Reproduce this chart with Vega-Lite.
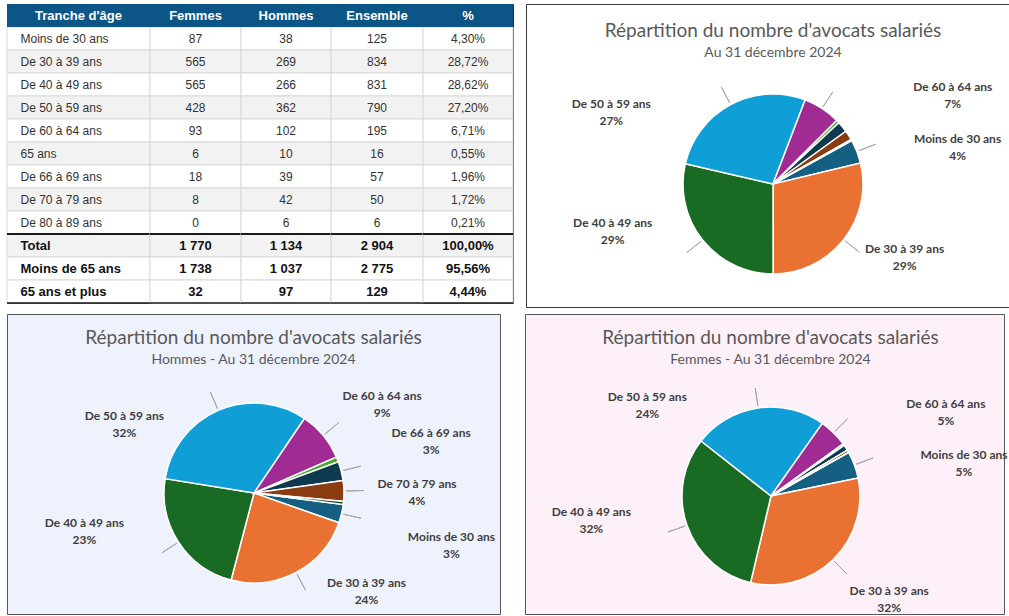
{
  "$schema": "https://vega.github.io/schema/vega-lite/v6.json",
  "padding": {"left": 5, "top": 3, "right": 0, "bottom": 0},
  "background": "#ffffff",
  "spacing": 5,
  "datasets": {
    "lignes": [
      {"tranche": "Moins de 30 ans", "femmes": 87, "hommes": 38, "ensemble": 125, "pct": 0.0430, "partH": 0.0335, "partF": 0.0492, "kind": "age"},
      {"tranche": "De 30 à 39 ans", "femmes": 565, "hommes": 269, "ensemble": 834, "pct": 0.2872, "partH": 0.2372, "partF": 0.3192, "kind": "age"},
      {"tranche": "De 40 à 49 ans", "femmes": 565, "hommes": 266, "ensemble": 831, "pct": 0.2862, "partH": 0.2346, "partF": 0.3192, "kind": "age"},
      {"tranche": "De 50 à 59 ans", "femmes": 428, "hommes": 362, "ensemble": 790, "pct": 0.2720, "partH": 0.3192, "partF": 0.2418, "kind": "age"},
      {"tranche": "De 60 à 64 ans", "femmes": 93, "hommes": 102, "ensemble": 195, "pct": 0.0671, "partH": 0.0899, "partF": 0.0525, "kind": "age"},
      {"tranche": "65 ans", "femmes": 6, "hommes": 10, "ensemble": 16, "pct": 0.0055, "partH": 0.0088, "partF": 0.0034, "kind": "age"},
      {"tranche": "De 66 à 69 ans", "femmes": 18, "hommes": 39, "ensemble": 57, "pct": 0.0196, "partH": 0.0344, "partF": 0.0102, "kind": "age"},
      {"tranche": "De 70 à 79 ans", "femmes": 8, "hommes": 42, "ensemble": 50, "pct": 0.0172, "partH": 0.0370, "partF": 0.0045, "kind": "age"},
      {"tranche": "De 80 à 89 ans", "femmes": 0, "hommes": 6, "ensemble": 6, "pct": 0.0021, "partH": 0.0053, "partF": 0, "kind": "age"},
      {"tranche": "Total", "femmes": 1770, "hommes": 1134, "ensemble": 2904, "pct": 1.0, "kind": "total"},
      {"tranche": "Moins de 65 ans", "femmes": 1738, "hommes": 1037, "ensemble": 2775, "pct": 0.9556, "kind": "total"},
      {"tranche": "65 ans et plus", "femmes": 32, "hommes": 97, "ensemble": 129, "pct": 0.0444, "kind": "total"}
    ],
    "entetes": [
      {"tranche": "entete", "colonne": "Tranche d'âge"},
      {"tranche": "entete", "colonne": "Femmes"},
      {"tranche": "entete", "colonne": "Hommes"},
      {"tranche": "entete", "colonne": "Ensemble"},
      {"tranche": "entete", "colonne": "%"}
    ]
  },
  "vconcat": [
    {
      "spacing": 10,
      "hconcat": [
        {
          "spacing": 0,
          "bounds": "flush",
          "hconcat": [
            {
              "width": 143, "height": 299,
              "view": {"stroke": "#262626", "strokeWidth": 1},
              "encoding": {"y": {"field": "tranche", "type": "ordinal", "axis": null, "scale": {"domain": ["entete","Moins de 30 ans","De 30 à 39 ans","De 40 à 49 ans","De 50 à 59 ans","De 60 à 64 ans","65 ans","De 66 à 69 ans","De 70 à 79 ans","De 80 à 89 ans","Total","Moins de 65 ans","65 ans et plus"], "paddingInner": 0, "paddingOuter": 0}}},
              "layer": [
                {"data": {"name": "lignes"}, "mark": {"type": "rect", "stroke": "#d9d9d9", "strokeWidth": 1}, "encoding": {"fill": {"condition": {"test": {"field": "tranche", "oneOf": ["De 30 à 39 ans","De 50 à 59 ans","65 ans","De 70 à 79 ans","Total"]}, "value": "#f2f2f2"}, "value": "#ffffff"}}},
                {"data": {"name": "lignes"}, "transform": [{"filter": {"field": "kind", "equal": "age"}}], "mark": {"type": "text", "align": "left", "dx": -58, "font": "Liberation Sans", "fontSize": 12, "color": "#333333"}, "encoding": {"text": {"field": "tranche", "type": "nominal"}}},
                {"data": {"name": "lignes"}, "transform": [{"filter": {"field": "kind", "equal": "total"}}], "mark": {"type": "text", "align": "left", "dx": -58, "font": "Liberation Sans", "fontSize": 13, "fontWeight": "bold", "color": "#111111"}, "encoding": {"text": {"field": "tranche", "type": "nominal"}}},
                {"data": {"name": "entetes"}, "transform": [{"filter": {"field": "colonne", "equal": "Tranche d'âge"}}], "mark": {"type": "rect", "fill": "#0b5587"}},
                {"data": {"name": "entetes"}, "transform": [{"filter": {"field": "colonne", "equal": "Tranche d'âge"}}], "mark": {"type": "text", "font": "Liberation Sans", "fontSize": 13, "fontWeight": "bold", "color": "#ffffff"}, "encoding": {"text": {"field": "colonne", "type": "nominal"}}},
                {"data": {"name": "lignes"}, "transform": [{"filter": {"field": "tranche", "equal": "Total"}}], "mark": {"type": "rule", "color": "#1a1a1a", "strokeWidth": 2, "yOffset": -11.5}},
                {"data": {"name": "lignes"}, "transform": [{"filter": {"field": "tranche", "equal": "65 ans et plus"}}], "mark": {"type": "rule", "color": "#1a1a1a", "strokeWidth": 1.5, "yOffset": 11.5}}
              ]
            },
            {
              "width": 91, "height": 299,
              "view": {"stroke": null},
              "encoding": {"y": {"field": "tranche", "type": "ordinal", "axis": null, "scale": {"domain": ["entete","Moins de 30 ans","De 30 à 39 ans","De 40 à 49 ans","De 50 à 59 ans","De 60 à 64 ans","65 ans","De 66 à 69 ans","De 70 à 79 ans","De 80 à 89 ans","Total","Moins de 65 ans","65 ans et plus"], "paddingInner": 0, "paddingOuter": 0}}},
              "layer": [
                {"data": {"name": "lignes"}, "mark": {"type": "rect", "stroke": "#d9d9d9", "strokeWidth": 1}, "encoding": {"fill": {"condition": {"test": {"field": "tranche", "oneOf": ["De 30 à 39 ans","De 50 à 59 ans","65 ans","De 70 à 79 ans","Total"]}, "value": "#f2f2f2"}, "value": "#ffffff"}}},
                {"data": {"name": "lignes"}, "transform": [{"filter": {"field": "kind", "equal": "age"}}], "mark": {"type": "text", "font": "Liberation Sans", "fontSize": 12, "color": "#333333"}, "encoding": {"text": {"field": "femmes", "type": "quantitative", "format": ",d"}}},
                {"data": {"name": "lignes"}, "transform": [{"filter": {"field": "kind", "equal": "total"}}], "mark": {"type": "text", "font": "Liberation Sans", "fontSize": 13, "fontWeight": "bold", "color": "#111111"}, "encoding": {"text": {"field": "femmes", "type": "quantitative", "format": ",d"}}},
                {"data": {"name": "entetes"}, "transform": [{"filter": {"field": "colonne", "equal": "Femmes"}}], "mark": {"type": "rect", "fill": "#0b5587"}},
                {"data": {"name": "entetes"}, "transform": [{"filter": {"field": "colonne", "equal": "Femmes"}}], "mark": {"type": "text", "font": "Liberation Sans", "fontSize": 13, "fontWeight": "bold", "color": "#ffffff"}, "encoding": {"text": {"field": "colonne", "type": "nominal"}}},
                {"data": {"name": "lignes"}, "transform": [{"filter": {"field": "tranche", "equal": "Total"}}], "mark": {"type": "rule", "color": "#1a1a1a", "strokeWidth": 2, "yOffset": -11.5}},
                {"data": {"name": "lignes"}, "transform": [{"filter": {"field": "tranche", "equal": "65 ans et plus"}}], "mark": {"type": "rule", "color": "#1a1a1a", "strokeWidth": 1.5, "yOffset": 11.5}}
              ]
            },
            {
              "width": 90, "height": 299,
              "view": {"stroke": null},
              "encoding": {"y": {"field": "tranche", "type": "ordinal", "axis": null, "scale": {"domain": ["entete","Moins de 30 ans","De 30 à 39 ans","De 40 à 49 ans","De 50 à 59 ans","De 60 à 64 ans","65 ans","De 66 à 69 ans","De 70 à 79 ans","De 80 à 89 ans","Total","Moins de 65 ans","65 ans et plus"], "paddingInner": 0, "paddingOuter": 0}}},
              "layer": [
                {"data": {"name": "lignes"}, "mark": {"type": "rect", "stroke": "#d9d9d9", "strokeWidth": 1}, "encoding": {"fill": {"condition": {"test": {"field": "tranche", "oneOf": ["De 30 à 39 ans","De 50 à 59 ans","65 ans","De 70 à 79 ans","Total"]}, "value": "#f2f2f2"}, "value": "#ffffff"}}},
                {"data": {"name": "lignes"}, "transform": [{"filter": {"field": "kind", "equal": "age"}}], "mark": {"type": "text", "font": "Liberation Sans", "fontSize": 12, "color": "#333333"}, "encoding": {"text": {"field": "hommes", "type": "quantitative", "format": ",d"}}},
                {"data": {"name": "lignes"}, "transform": [{"filter": {"field": "kind", "equal": "total"}}], "mark": {"type": "text", "font": "Liberation Sans", "fontSize": 13, "fontWeight": "bold", "color": "#111111"}, "encoding": {"text": {"field": "hommes", "type": "quantitative", "format": ",d"}}},
                {"data": {"name": "entetes"}, "transform": [{"filter": {"field": "colonne", "equal": "Hommes"}}], "mark": {"type": "rect", "fill": "#0b5587"}},
                {"data": {"name": "entetes"}, "transform": [{"filter": {"field": "colonne", "equal": "Hommes"}}], "mark": {"type": "text", "font": "Liberation Sans", "fontSize": 13, "fontWeight": "bold", "color": "#ffffff"}, "encoding": {"text": {"field": "colonne", "type": "nominal"}}},
                {"data": {"name": "lignes"}, "transform": [{"filter": {"field": "tranche", "equal": "Total"}}], "mark": {"type": "rule", "color": "#1a1a1a", "strokeWidth": 2, "yOffset": -11.5}},
                {"data": {"name": "lignes"}, "transform": [{"filter": {"field": "tranche", "equal": "65 ans et plus"}}], "mark": {"type": "rule", "color": "#1a1a1a", "strokeWidth": 1.5, "yOffset": 11.5}}
              ]
            },
            {
              "width": 92, "height": 299,
              "view": {"stroke": null},
              "encoding": {"y": {"field": "tranche", "type": "ordinal", "axis": null, "scale": {"domain": ["entete","Moins de 30 ans","De 30 à 39 ans","De 40 à 49 ans","De 50 à 59 ans","De 60 à 64 ans","65 ans","De 66 à 69 ans","De 70 à 79 ans","De 80 à 89 ans","Total","Moins de 65 ans","65 ans et plus"], "paddingInner": 0, "paddingOuter": 0}}},
              "layer": [
                {"data": {"name": "lignes"}, "mark": {"type": "rect", "stroke": "#d9d9d9", "strokeWidth": 1}, "encoding": {"fill": {"condition": {"test": {"field": "tranche", "oneOf": ["De 30 à 39 ans","De 50 à 59 ans","65 ans","De 70 à 79 ans","Total"]}, "value": "#f2f2f2"}, "value": "#ffffff"}}},
                {"data": {"name": "lignes"}, "transform": [{"filter": {"field": "kind", "equal": "age"}}], "mark": {"type": "text", "font": "Liberation Sans", "fontSize": 12, "color": "#333333"}, "encoding": {"text": {"field": "ensemble", "type": "quantitative", "format": ",d"}}},
                {"data": {"name": "lignes"}, "transform": [{"filter": {"field": "kind", "equal": "total"}}], "mark": {"type": "text", "font": "Liberation Sans", "fontSize": 13, "fontWeight": "bold", "color": "#111111"}, "encoding": {"text": {"field": "ensemble", "type": "quantitative", "format": ",d"}}},
                {"data": {"name": "entetes"}, "transform": [{"filter": {"field": "colonne", "equal": "Ensemble"}}], "mark": {"type": "rect", "fill": "#0b5587"}},
                {"data": {"name": "entetes"}, "transform": [{"filter": {"field": "colonne", "equal": "Ensemble"}}], "mark": {"type": "text", "font": "Liberation Sans", "fontSize": 13, "fontWeight": "bold", "color": "#ffffff"}, "encoding": {"text": {"field": "colonne", "type": "nominal"}}},
                {"data": {"name": "lignes"}, "transform": [{"filter": {"field": "tranche", "equal": "Total"}}], "mark": {"type": "rule", "color": "#1a1a1a", "strokeWidth": 2, "yOffset": -11.5}},
                {"data": {"name": "lignes"}, "transform": [{"filter": {"field": "tranche", "equal": "65 ans et plus"}}], "mark": {"type": "rule", "color": "#1a1a1a", "strokeWidth": 1.5, "yOffset": 11.5}}
              ]
            },
            {
              "width": 90, "height": 299,
              "view": {"stroke": "#262626", "strokeWidth": 1},
              "encoding": {"y": {"field": "tranche", "type": "ordinal", "axis": null, "scale": {"domain": ["entete","Moins de 30 ans","De 30 à 39 ans","De 40 à 49 ans","De 50 à 59 ans","De 60 à 64 ans","65 ans","De 66 à 69 ans","De 70 à 79 ans","De 80 à 89 ans","Total","Moins de 65 ans","65 ans et plus"], "paddingInner": 0, "paddingOuter": 0}}},
              "layer": [
                {"data": {"name": "lignes"}, "mark": {"type": "rect", "stroke": "#d9d9d9", "strokeWidth": 1}, "encoding": {"fill": {"condition": {"test": {"field": "tranche", "oneOf": ["De 30 à 39 ans","De 50 à 59 ans","65 ans","De 70 à 79 ans","Total"]}, "value": "#f2f2f2"}, "value": "#ffffff"}}},
                {"data": {"name": "lignes"}, "transform": [{"filter": {"field": "kind", "equal": "age"}}], "mark": {"type": "text", "font": "Liberation Sans", "fontSize": 12, "color": "#333333"}, "encoding": {"text": {"field": "pct", "type": "quantitative", "format": ".2%"}}},
                {"data": {"name": "lignes"}, "transform": [{"filter": {"field": "kind", "equal": "total"}}], "mark": {"type": "text", "font": "Liberation Sans", "fontSize": 13, "fontWeight": "bold", "color": "#111111"}, "encoding": {"text": {"field": "pct", "type": "quantitative", "format": ".2%"}}},
                {"data": {"name": "entetes"}, "transform": [{"filter": {"field": "colonne", "equal": "%"}}], "mark": {"type": "rect", "fill": "#0b5587"}},
                {"data": {"name": "entetes"}, "transform": [{"filter": {"field": "colonne", "equal": "%"}}], "mark": {"type": "text", "font": "Liberation Sans", "fontSize": 13, "fontWeight": "bold", "color": "#ffffff"}, "encoding": {"text": {"field": "colonne", "type": "nominal"}}},
                {"data": {"name": "lignes"}, "transform": [{"filter": {"field": "tranche", "equal": "Total"}}], "mark": {"type": "rule", "color": "#1a1a1a", "strokeWidth": 2, "yOffset": -11.5}},
                {"data": {"name": "lignes"}, "transform": [{"filter": {"field": "tranche", "equal": "65 ans et plus"}}], "mark": {"type": "rule", "color": "#1a1a1a", "strokeWidth": 1.5, "yOffset": 11.5}}
              ]
            }
          ]
        },
        {
          "width": 484, "height": 303,
          "view": {"fill": "#ffffff", "stroke": "#3a3a3a", "strokeWidth": 1},
          "title": {"text": "Répartition du nombre d'avocats salariés", "subtitle": "Au 31 décembre 2024", "anchor": "middle", "offset": -56, "dx": 5, "font": "Lato", "fontSize": 19, "fontWeight": "normal", "color": "#595959", "subtitleFont": "Lato", "subtitleFontSize": 14, "subtitleColor": "#595959", "subtitlePadding": 5},
          "data": {"name": "lignes"},
          "transform": [{"filter": {"field": "kind", "equal": "age"}}, {"window": [{"op": "row_number", "as": "rang"}]}],
          "encoding": {
            "theta": {"field": "ensemble", "type": "quantitative", "stack": true, "scale": {"range": [1.066, 7.349]}},
            "order": {"field": "rang", "type": "quantitative"},
            "detail": {"field": "tranche", "type": "nominal"}
          },
          "layer": [
            {"mark": {"type": "arc", "outerRadius": 90, "stroke": "#ffffff", "strokeWidth": 1.5, "xOffset": 5, "yOffset": 28.5},
             "encoding": {"color": {"field": "tranche", "type": "nominal", "legend": null, "scale": {"domain": ["Moins de 30 ans","De 30 à 39 ans","De 40 à 49 ans","De 50 à 59 ans","De 60 à 64 ans","65 ans","De 66 à 69 ans","De 70 à 79 ans","De 80 à 89 ans"], "range": ["#156082","#E97132","#196B24","#0F9ED5","#A02B93","#4EA72E","#0D3A4E","#8A3B12","#0F4016"]}}}},
            {"mark": {"type": "arc", "innerRadius": 92, "outerRadius": 110, "padAngle": 3, "filled": false, "stroke": "#a6a6a6", "strokeWidth": 1, "xOffset": 5, "yOffset": 28.5},
             "encoding": {"strokeOpacity": {"condition": {"test": {"field": "tranche", "oneOf": ["Moins de 30 ans","De 30 à 39 ans","De 40 à 49 ans","De 50 à 59 ans","De 60 à 64 ans"]}, "value": 1}, "value": 0}}},
            {"mark": {"type": "text", "radius": 95, "dx": -117, "dy": 3.5, "font": "Lato", "fontSize": 12, "fontWeight": "bold", "color": "#404040", "xOffset": 5, "yOffset": 28.5},
             "encoding": {"text": {"condition": {"test": {"field": "tranche", "equal": "De 50 à 59 ans"}, "field": "tranche", "type": "nominal"}, "value": ""}}},
            {"mark": {"type": "text", "radius": 95, "dx": -117, "dy": 20.5, "font": "Lato", "fontSize": 12, "fontWeight": "bold", "color": "#404040", "xOffset": 5, "yOffset": 28.5},
             "encoding": {"text": {"condition": {"test": {"field": "tranche", "equal": "De 50 à 59 ans"}, "field": "pct", "type": "quantitative", "format": ".0%"}, "value": ""}}},
            {"mark": {"type": "text", "radius": 95, "dx": -86, "dy": -20.5, "font": "Lato", "fontSize": 12, "fontWeight": "bold", "color": "#404040", "xOffset": 5, "yOffset": 28.5},
             "encoding": {"text": {"condition": {"test": {"field": "tranche", "equal": "De 40 à 49 ans"}, "field": "tranche", "type": "nominal"}, "value": ""}}},
            {"mark": {"type": "text", "radius": 95, "dx": -86, "dy": -3.5, "font": "Lato", "fontSize": 12, "fontWeight": "bold", "color": "#404040", "xOffset": 5, "yOffset": 28.5},
             "encoding": {"text": {"condition": {"test": {"field": "tranche", "equal": "De 40 à 49 ans"}, "field": "pct", "type": "quantitative", "format": ".0%"}, "value": ""}}},
            {"mark": {"type": "text", "radius": 95, "dx": 57, "dy": 6.5, "font": "Lato", "fontSize": 12, "fontWeight": "bold", "color": "#404040", "xOffset": 5, "yOffset": 28.5},
             "encoding": {"text": {"condition": {"test": {"field": "tranche", "equal": "De 30 à 39 ans"}, "field": "tranche", "type": "nominal"}, "value": ""}}},
            {"mark": {"type": "text", "radius": 95, "dx": 57, "dy": 23.5, "font": "Lato", "fontSize": 12, "fontWeight": "bold", "color": "#404040", "xOffset": 5, "yOffset": 28.5},
             "encoding": {"text": {"condition": {"test": {"field": "tranche", "equal": "De 30 à 39 ans"}, "field": "pct", "type": "quantitative", "format": ".0%"}, "value": ""}}},
            {"mark": {"type": "text", "radius": 95, "dx": 96, "dy": -10.5, "font": "Lato", "fontSize": 12, "fontWeight": "bold", "color": "#404040", "xOffset": 5, "yOffset": 28.5},
             "encoding": {"text": {"condition": {"test": {"field": "tranche", "equal": "Moins de 30 ans"}, "field": "tranche", "type": "nominal"}, "value": ""}}},
            {"mark": {"type": "text", "radius": 95, "dx": 96, "dy": 6.5, "font": "Lato", "fontSize": 12, "fontWeight": "bold", "color": "#404040", "xOffset": 5, "yOffset": 28.5},
             "encoding": {"text": {"condition": {"test": {"field": "tranche", "equal": "Moins de 30 ans"}, "field": "pct", "type": "quantitative", "format": ".0%"}, "value": ""}}},
            {"mark": {"type": "text", "radius": 95, "dx": 128, "dy": -17.5, "font": "Lato", "fontSize": 12, "fontWeight": "bold", "color": "#404040", "xOffset": 5, "yOffset": 28.5},
             "encoding": {"text": {"condition": {"test": {"field": "tranche", "equal": "De 60 à 64 ans"}, "field": "tranche", "type": "nominal"}, "value": ""}}},
            {"mark": {"type": "text", "radius": 95, "dx": 128, "dy": -0.5, "font": "Lato", "fontSize": 12, "fontWeight": "bold", "color": "#404040", "xOffset": 5, "yOffset": 28.5},
             "encoding": {"text": {"condition": {"test": {"field": "tranche", "equal": "De 60 à 64 ans"}, "field": "pct", "type": "quantitative", "format": ".0%"}, "value": ""}}}
          ]
        }
      ]
    },
    {
      "spacing": 25,
      "bounds": "flush",
      "hconcat": [
        {
          "width": 493, "height": 300,
          "view": {"fill": "#eef2fd", "stroke": "#555555", "strokeWidth": 1},
          "title": {"text": "Répartition du nombre d'avocats salariés", "subtitle": "Hommes - Au 31 décembre 2024", "anchor": "middle", "offset": -53, "font": "Lato", "fontSize": 19, "fontWeight": "normal", "color": "#595959", "subtitleFont": "Lato", "subtitleFontSize": 14, "subtitleColor": "#595959", "subtitlePadding": 5},
          "data": {"name": "lignes"},
          "transform": [{"filter": {"field": "kind", "equal": "age"}}, {"window": [{"op": "row_number", "as": "rang"}]}],
          "encoding": {
            "theta": {"field": "hommes", "type": "quantitative", "stack": true, "scale": {"range": [1.698, 7.981]}},
            "order": {"field": "rang", "type": "quantitative"},
            "detail": {"field": "tranche", "type": "nominal"}
          },
          "layer": [
            {"mark": {"type": "arc", "outerRadius": 90, "stroke": "#ffffff", "strokeWidth": 1.5, "xOffset": 0.5, "yOffset": 29},
             "encoding": {"color": {"field": "tranche", "type": "nominal", "legend": null, "scale": {"domain": ["Moins de 30 ans","De 30 à 39 ans","De 40 à 49 ans","De 50 à 59 ans","De 60 à 64 ans","65 ans","De 66 à 69 ans","De 70 à 79 ans","De 80 à 89 ans"], "range": ["#156082","#E97132","#196B24","#0F9ED5","#A02B93","#4EA72E","#0D3A4E","#8A3B12","#0F4016"]}}}},
            {"mark": {"type": "arc", "innerRadius": 92, "outerRadius": 110, "padAngle": 3, "filled": false, "stroke": "#a6a6a6", "strokeWidth": 1, "xOffset": 0.5, "yOffset": 29},
             "encoding": {"strokeOpacity": {"condition": {"test": {"field": "tranche", "oneOf": ["Moins de 30 ans","De 30 à 39 ans","De 40 à 49 ans","De 50 à 59 ans","De 60 à 64 ans","De 66 à 69 ans","De 70 à 79 ans"]}, "value": 1}, "value": 0}}},
            {"mark": {"type": "text", "radius": 95, "dx": -92, "dy": 10.5, "font": "Lato", "fontSize": 12, "fontWeight": "bold", "color": "#404040", "xOffset": 0.5, "yOffset": 29},
             "encoding": {"text": {"condition": {"test": {"field": "tranche", "equal": "De 50 à 59 ans"}, "field": "tranche", "type": "nominal"}, "value": ""}}},
            {"mark": {"type": "text", "radius": 95, "dx": -92, "dy": 27.5, "font": "Lato", "fontSize": 12, "fontWeight": "bold", "color": "#404040", "xOffset": 0.5, "yOffset": 29},
             "encoding": {"text": {"condition": {"test": {"field": "tranche", "equal": "De 50 à 59 ans"}, "field": "partH", "type": "quantitative", "format": ".0%"}, "value": ""}}},
            {"mark": {"type": "text", "radius": 95, "dx": -90, "dy": -21.5, "font": "Lato", "fontSize": 12, "fontWeight": "bold", "color": "#404040", "xOffset": 0.5, "yOffset": 29},
             "encoding": {"text": {"condition": {"test": {"field": "tranche", "equal": "De 40 à 49 ans"}, "field": "tranche", "type": "nominal"}, "value": ""}}},
            {"mark": {"type": "text", "radius": 95, "dx": -90, "dy": -4.5, "font": "Lato", "fontSize": 12, "fontWeight": "bold", "color": "#404040", "xOffset": 0.5, "yOffset": 29},
             "encoding": {"text": {"condition": {"test": {"field": "tranche", "equal": "De 40 à 49 ans"}, "field": "partH", "type": "quantitative", "format": ".0%"}, "value": ""}}},
            {"mark": {"type": "text", "radius": 95, "dx": 68, "dy": 6.5, "font": "Lato", "fontSize": 12, "fontWeight": "bold", "color": "#404040", "xOffset": 0.5, "yOffset": 29},
             "encoding": {"text": {"condition": {"test": {"field": "tranche", "equal": "De 30 à 39 ans"}, "field": "tranche", "type": "nominal"}, "value": ""}}},
            {"mark": {"type": "text", "radius": 95, "dx": 68, "dy": 23.5, "font": "Lato", "fontSize": 12, "fontWeight": "bold", "color": "#404040", "xOffset": 0.5, "yOffset": 29},
             "encoding": {"text": {"condition": {"test": {"field": "tranche", "equal": "De 30 à 39 ans"}, "field": "partH", "type": "quantitative", "format": ".0%"}, "value": ""}}},
            {"mark": {"type": "text", "radius": 95, "dx": 105, "dy": 22.5, "font": "Lato", "fontSize": 12, "fontWeight": "bold", "color": "#404040", "xOffset": 0.5, "yOffset": 29},
             "encoding": {"text": {"condition": {"test": {"field": "tranche", "equal": "Moins de 30 ans"}, "field": "tranche", "type": "nominal"}, "value": ""}}},
            {"mark": {"type": "text", "radius": 95, "dx": 105, "dy": 39.5, "font": "Lato", "fontSize": 12, "fontWeight": "bold", "color": "#404040", "xOffset": 0.5, "yOffset": 29},
             "encoding": {"text": {"condition": {"test": {"field": "tranche", "equal": "Moins de 30 ans"}, "field": "partH", "type": "quantitative", "format": ".0%"}, "value": ""}}},
            {"mark": {"type": "text", "radius": 95, "dx": 68, "dy": -6.5, "font": "Lato", "fontSize": 12, "fontWeight": "bold", "color": "#404040", "xOffset": 0.5, "yOffset": 29},
             "encoding": {"text": {"condition": {"test": {"field": "tranche", "equal": "De 70 à 79 ans"}, "field": "tranche", "type": "nominal"}, "value": ""}}},
            {"mark": {"type": "text", "radius": 95, "dx": 68, "dy": 10.5, "font": "Lato", "fontSize": 12, "fontWeight": "bold", "color": "#404040", "xOffset": 0.5, "yOffset": 29},
             "encoding": {"text": {"condition": {"test": {"field": "tranche", "equal": "De 70 à 79 ans"}, "field": "partH", "type": "quantitative", "format": ".0%"}, "value": ""}}},
            {"mark": {"type": "text", "radius": 95, "dx": 85, "dy": -36.5, "font": "Lato", "fontSize": 12, "fontWeight": "bold", "color": "#404040", "xOffset": 0.5, "yOffset": 29},
             "encoding": {"text": {"condition": {"test": {"field": "tranche", "equal": "De 66 à 69 ans"}, "field": "tranche", "type": "nominal"}, "value": ""}}},
            {"mark": {"type": "text", "radius": 95, "dx": 85, "dy": -19.5, "font": "Lato", "fontSize": 12, "fontWeight": "bold", "color": "#404040", "xOffset": 0.5, "yOffset": 29},
             "encoding": {"text": {"condition": {"test": {"field": "tranche", "equal": "De 66 à 69 ans"}, "field": "partH", "type": "quantitative", "format": ".0%"}, "value": ""}}},
            {"mark": {"type": "text", "radius": 95, "dx": 55, "dy": -36.5, "font": "Lato", "fontSize": 12, "fontWeight": "bold", "color": "#404040", "xOffset": 0.5, "yOffset": 29},
             "encoding": {"text": {"condition": {"test": {"field": "tranche", "equal": "De 60 à 64 ans"}, "field": "tranche", "type": "nominal"}, "value": ""}}},
            {"mark": {"type": "text", "radius": 95, "dx": 55, "dy": -19.5, "font": "Lato", "fontSize": 12, "fontWeight": "bold", "color": "#404040", "xOffset": 0.5, "yOffset": 29},
             "encoding": {"text": {"condition": {"test": {"field": "tranche", "equal": "De 60 à 64 ans"}, "field": "partH", "type": "quantitative", "format": ".0%"}, "value": ""}}}
          ]
        },
        {
          "width": 479, "height": 300,
          "view": {"fill": "#fdf0f8", "stroke": "#555555", "strokeWidth": 1},
          "title": {"text": "Répartition du nombre d'avocats salariés", "subtitle": "Femmes - Au 31 décembre 2024", "anchor": "middle", "offset": -53, "dx": 6, "font": "Lato", "fontSize": 19, "fontWeight": "normal", "color": "#595959", "subtitleFont": "Lato", "subtitleFontSize": 14, "subtitleColor": "#595959", "subtitlePadding": 5},
          "data": {"name": "lignes"},
          "transform": [{"filter": {"field": "kind", "equal": "age"}}, {"window": [{"op": "row_number", "as": "rang"}]}],
          "encoding": {
            "theta": {"field": "femmes", "type": "quantitative", "stack": true, "scale": {"range": [1.059, 7.342]}},
            "order": {"field": "rang", "type": "quantitative"},
            "detail": {"field": "tranche", "type": "nominal"}
          },
          "layer": [
            {"mark": {"type": "arc", "outerRadius": 89, "stroke": "#ffffff", "strokeWidth": 1.5, "xOffset": 6.5, "yOffset": 32},
             "encoding": {"color": {"field": "tranche", "type": "nominal", "legend": null, "scale": {"domain": ["Moins de 30 ans","De 30 à 39 ans","De 40 à 49 ans","De 50 à 59 ans","De 60 à 64 ans","65 ans","De 66 à 69 ans","De 70 à 79 ans","De 80 à 89 ans"], "range": ["#156082","#E97132","#196B24","#0F9ED5","#A02B93","#4EA72E","#0D3A4E","#8A3B12","#0F4016"]}}}},
            {"mark": {"type": "arc", "innerRadius": 91, "outerRadius": 109, "padAngle": 3, "filled": false, "stroke": "#a6a6a6", "strokeWidth": 1, "xOffset": 6.5, "yOffset": 32},
             "encoding": {"strokeOpacity": {"condition": {"test": {"field": "tranche", "oneOf": ["Moins de 30 ans","De 30 à 39 ans","De 40 à 49 ans","De 50 à 59 ans","De 60 à 64 ans"]}, "value": 1}, "value": 0}}},
            {"mark": {"type": "text", "radius": 95, "dx": -110, "dy": -4.5, "font": "Lato", "fontSize": 12, "fontWeight": "bold", "color": "#404040", "xOffset": 6.5, "yOffset": 32},
             "encoding": {"text": {"condition": {"test": {"field": "tranche", "equal": "De 50 à 59 ans"}, "field": "tranche", "type": "nominal"}, "value": ""}}},
            {"mark": {"type": "text", "radius": 95, "dx": -110, "dy": 12.5, "font": "Lato", "fontSize": 12, "fontWeight": "bold", "color": "#404040", "xOffset": 6.5, "yOffset": 32},
             "encoding": {"text": {"condition": {"test": {"field": "tranche", "equal": "De 50 à 59 ans"}, "field": "partF", "type": "quantitative", "format": ".0%"}, "value": ""}}},
            {"mark": {"type": "text", "radius": 95, "dx": -90, "dy": -15.5, "font": "Lato", "fontSize": 12, "fontWeight": "bold", "color": "#404040", "xOffset": 6.5, "yOffset": 32},
             "encoding": {"text": {"condition": {"test": {"field": "tranche", "equal": "De 40 à 49 ans"}, "field": "tranche", "type": "nominal"}, "value": ""}}},
            {"mark": {"type": "text", "radius": 95, "dx": -90, "dy": 1.5, "font": "Lato", "fontSize": 12, "fontWeight": "bold", "color": "#404040", "xOffset": 6.5, "yOffset": 32},
             "encoding": {"text": {"condition": {"test": {"field": "tranche", "equal": "De 40 à 49 ans"}, "field": "partF", "type": "quantitative", "format": ".0%"}, "value": ""}}},
            {"mark": {"type": "text", "radius": 95, "dx": 52, "dy": 26.5, "font": "Lato", "fontSize": 12, "fontWeight": "bold", "color": "#404040", "xOffset": 6.5, "yOffset": 32},
             "encoding": {"text": {"condition": {"test": {"field": "tranche", "equal": "De 30 à 39 ans"}, "field": "tranche", "type": "nominal"}, "value": ""}}},
            {"mark": {"type": "text", "radius": 95, "dx": 52, "dy": 43.5, "font": "Lato", "fontSize": 12, "fontWeight": "bold", "color": "#404040", "xOffset": 6.5, "yOffset": 32},
             "encoding": {"text": {"condition": {"test": {"field": "tranche", "equal": "De 30 à 39 ans"}, "field": "partF", "type": "quantitative", "format": ".0%"}, "value": ""}}},
            {"mark": {"type": "text", "radius": 95, "dx": 104, "dy": -7.5, "font": "Lato", "fontSize": 12, "fontWeight": "bold", "color": "#404040", "xOffset": 6.5, "yOffset": 32},
             "encoding": {"text": {"condition": {"test": {"field": "tranche", "equal": "Moins de 30 ans"}, "field": "tranche", "type": "nominal"}, "value": ""}}},
            {"mark": {"type": "text", "radius": 95, "dx": 104, "dy": 9.5, "font": "Lato", "fontSize": 12, "fontWeight": "bold", "color": "#404040", "xOffset": 6.5, "yOffset": 32},
             "encoding": {"text": {"condition": {"test": {"field": "tranche", "equal": "Moins de 30 ans"}, "field": "partF", "type": "quantitative", "format": ".0%"}, "value": ""}}},
            {"mark": {"type": "text", "radius": 95, "dx": 108, "dy": -24.5, "font": "Lato", "fontSize": 12, "fontWeight": "bold", "color": "#404040", "xOffset": 6.5, "yOffset": 32},
             "encoding": {"text": {"condition": {"test": {"field": "tranche", "equal": "De 60 à 64 ans"}, "field": "tranche", "type": "nominal"}, "value": ""}}},
            {"mark": {"type": "text", "radius": 95, "dx": 108, "dy": -7.5, "font": "Lato", "fontSize": 12, "fontWeight": "bold", "color": "#404040", "xOffset": 6.5, "yOffset": 32},
             "encoding": {"text": {"condition": {"test": {"field": "tranche", "equal": "De 60 à 64 ans"}, "field": "partF", "type": "quantitative", "format": ".0%"}, "value": ""}}}
          ]
        }
      ]
    }
  ],
  "config": {
    "locale": {"number": {"decimal": ",", "thousands": " ", "grouping": [3], "currency": ["", " €"]}},
    "view": {"stroke": null}
  }
}
